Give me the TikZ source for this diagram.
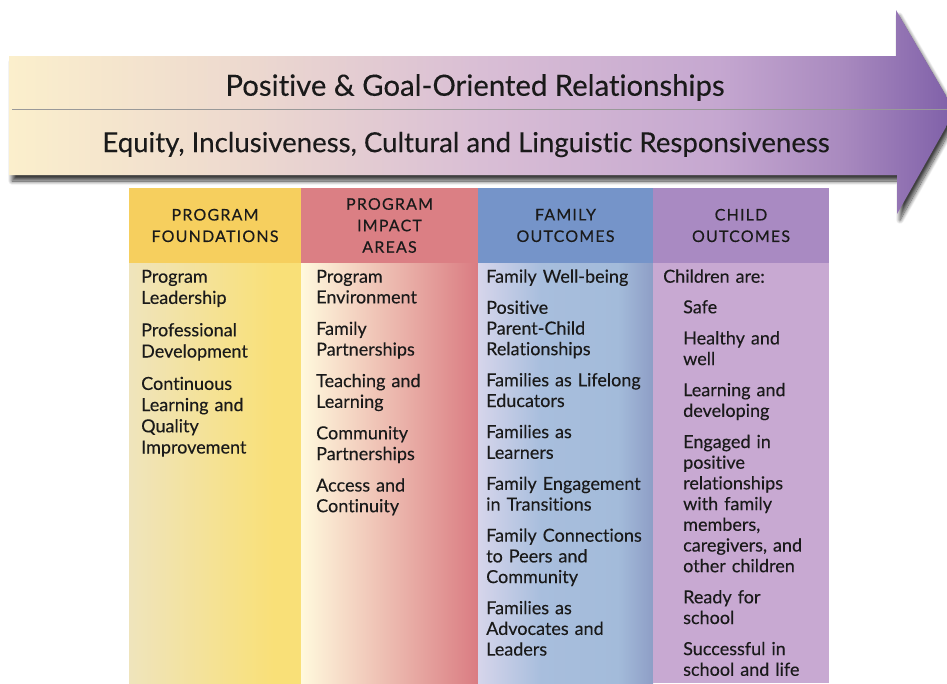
\documentclass[tikz,border=0pt]{standalone}
\usepackage{fontspec}
\setmainfont{Lato}[Ligatures=NoCommon, FakeBold=0.2]
\newfontfamily\capsfont{Lato}[LetterSpace=7.5, Ligatures=NoCommon, FakeBold=0.25]
\usetikzlibrary{shadows.blur}

% arrow band colours
\definecolor{ar0}{HTML}{FBEFCC}
\definecolor{ar1}{HTML}{EDD9CF}
\definecolor{ar2}{HTML}{D9BED5}
\definecolor{ar3}{HTML}{C5A7D0}
\definecolor{ar4}{HTML}{A98ABF}
\definecolor{ar5}{HTML}{7E5FA8}
% column header colours
\definecolor{hyel}{HTML}{F6CF5E}
\definecolor{hred}{HTML}{DB7F84}
\definecolor{hblu}{HTML}{7594C9}
\definecolor{hpur}{HTML}{A98AC2}
% column body colours
\definecolor{byelA}{HTML}{EFE4BC}
\definecolor{byelB}{HTML}{F9E078}
\definecolor{bredA}{HTML}{FFF9DD}
\definecolor{bredB}{HTML}{DA7C82}
\definecolor{bbluA}{HTML}{D6D5EB}
\definecolor{bbluB}{HTML}{A8BEDD}
\definecolor{bbluC}{HTML}{A3BBDA}
\definecolor{bbluD}{HTML}{8E9EC6}
\definecolor{bpur}{HTML}{C8A9D2}
\definecolor{ink}{HTML}{1A1A1A}

% the path's bounding box maps onto 25bp..75bp
\pgfdeclarehorizontalshading{arrowshade}{100bp}{color(0bp)=(ar0); color(25bp)=(ar0);
  color(37.5bp)=(ar1); color(50bp)=(ar2); color(62.5bp)=(ar3); color(69bp)=(ar4);
  color(75bp)=(ar5); color(100bp)=(ar5)}
\pgfdeclarehorizontalshading{yelshade}{100bp}{color(0bp)=(byelA); color(25bp)=(byelA);
  color(67bp)=(byelB); color(100bp)=(byelB)}
\pgfdeclarehorizontalshading{redshade}{100bp}{color(0bp)=(bredA); color(25bp)=(bredA);
  color(75bp)=(bredB); color(100bp)=(bredB)}
\pgfdeclarehorizontalshading{blushade}{100bp}{color(0bp)=(bbluA); color(25bp)=(bbluA);
  color(43bp)=(bbluB); color(65bp)=(bbluC); color(75bp)=(bbluD); color(100bp)=(bbluD)}

\tikzset{
  hdr/.style={minimum height=75pt, inner sep=0pt, align=center, text=ink,
    font=\capsfont\fontsize{16}{21.5}\selectfont},
  itemtext/.style={anchor=base west, inner sep=0pt, text width=160pt, align=left,
    text=ink, font=\fontsize{18}{20.7}\selectfont},
  bandtext/.style={inner sep=0pt, text=ink},
}

\begin{document}
\begin{tikzpicture}[x=1pt,y=-1pt]
\useasboundingbox (0,0) rectangle (947,683);
\clip (0,0) rectangle (947,683);

% the large arrow band
\path[shading=arrowshade, shade,
  blur shadow={shadow xshift=3pt, shadow yshift=-6pt, shadow blur radius=4pt,
    shadow opacity=75, shadow blur steps=12}]
  (9,56) -- (896,56) -- (896,10) -- (955,111) -- (897,214) -- (897,175)
  -- (9,175) -- cycle;
\draw[black!40, line width=0.8pt] (12,109) -- (947,109);
\node[bandtext, font=\fontsize{29.3}{35}\selectfont] (t1) at (475,87.5) {Positive \& Goal-Oriented Relationships};
\node[bandtext, font=\fontsize{27.6}{32}\selectfont] (t2) at (466,144.5) {Equity, Inclusiveness, Cultural and Linguistic Responsiveness};

% column bodies
\shade[shading=yelshade] (129,263) rectangle (301,683);
\shade[shading=redshade] (301,263) rectangle (478,683);
\shade[shading=blushade] (478,263) rectangle (653,683);
\fill[bpur] (653,263) rectangle (829,683);

% column headers
\node[hdr, fill=hyel, minimum width=172pt] (h1) at (215,225.5) {PROGRAM\\FOUNDATIONS};
\node[hdr, fill=hred, minimum width=177pt] (h2) at (389.5,225.5) {PROGRAM\\IMPACT\\AREAS};
\node[hdr, fill=hblu, minimum width=175pt] (h3) at (565.5,225.5) {FAMILY\\OUTCOMES};
\node[hdr, fill=hpur, minimum width=176pt] (h4) at (741,225.5) {CHILD\\OUTCOMES};

% column contents
\node[itemtext, font=\fontsize{18}{21.2}\selectfont] (c1) at (141,282.7)
  {Program\\Leadership\\[11.2pt]Professional\\Development\\[11.2pt]Continuous\\Learning and\\Quality\\Improvement};
\node[itemtext] (c2) at (316,282.7)
  {Program\\Environment\\[10.8pt]Family\\Partnerships\\[10.8pt]Teaching and\\Learning\\[10.8pt]Community\\Partnerships\\[10.8pt]Access and\\Continuity};
\node[itemtext] (c3) at (486,282.7)
  {Family Well-being\\[10.4pt]Positive\\Parent-Child\\Relationships\\[10.4pt]Families as Lifelong\\Educators\\[10.4pt]Families as\\Learners\\[10.4pt]Family Engagement\\in Transitions\\[10.4pt]Family Connections\\to Peers and\\Community\\[10.4pt]Families as\\Advocates and\\Leaders};
\node[itemtext] (c4) at (663,282.7) {Children are:};
\node[itemtext, text width=140pt] (c4list) at (683,313.3)
  {Safe\\[10.4pt]Healthy and\\well\\[10.4pt]Learning and\\developing\\[10.4pt]Engaged in\\positive\\relationships\\with family\\members,\\caregivers, and\\other children\\[10.4pt]Ready for\\school\\[10.4pt]Successful in\\school and life};
\end{tikzpicture}
\end{document}
